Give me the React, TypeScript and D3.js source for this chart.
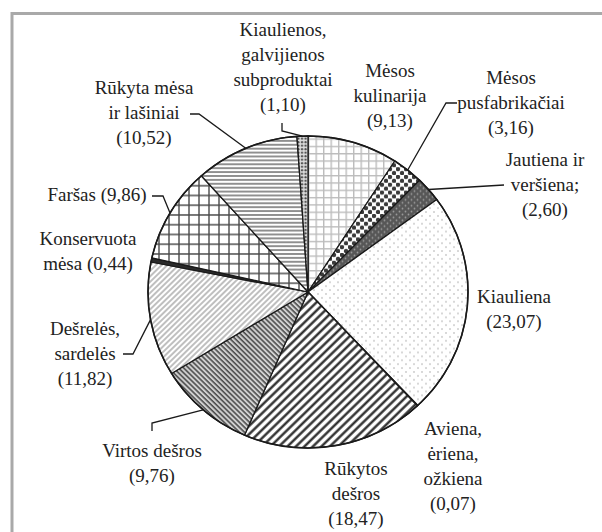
import React from 'react';
import * as d3 from 'd3';

// shares of meat product groups, clockwise from 12 o'clock
const categories = [
  'Mėsos kulinarija', 'Mėsos pusfabrikačiai', 'Jautiena ir veršiena', 'Kiauliena',
  'Aviena, ėriena, ožkiena', 'Rūkytos dešros', 'Virtos dešros', 'Dešrelės, sardelės',
  'Konservuota mėsa', 'Faršas', 'Rūkyta mėsa ir lašiniai', 'Kiaulienos, galvijienos subproduktai',
];
const values = [9.13, 3.16, 2.60, 23.07, 0.07, 18.47, 9.76, 11.82, 0.44, 9.86, 10.52, 1.10];
// how each label is broken into lines; {v} is the value
const labelLines = [
  ['Mėsos', 'kulinarija', '{v}'],
  ['Mėsos', 'pusfabrikačiai', '{v}'],
  ['Jautiena ir', 'veršiena;', '{v}'],
  ['Kiauliena', '{v}'],
  ['Aviena,', 'ėriena,', 'ožkiena', '{v}'],
  ['Rūkytos', 'dešros', '{v}'],
  ['Virtos dešros', '{v}'],
  ['Dešrelės,', 'sardelės', '{v}'],
  ['Konservuota', 'mėsa {v}'],
  ['Faršas {v}'],
  ['Rūkyta mėsa', 'ir lašiniai', '{v}'],
  ['Kiaulienos,', 'galvijienos', 'subproduktai', '{v}'],
];
const patternIds = [
  'p-kul', 'p-pus', 'p-jau', 'p-kia', 'p-avi', 'p-ruk', 'p-vir', 'p-des', 'p-kon', 'p-far', 'p-rme', 'p-sub',
];

// label placement (layout only)
const labelPos: { x: number; y: number; leader?: number[][] }[] = [
  { x: 390, y: 77 },
  { x: 511, y: 84, leader: [[457, 103], [446, 103]] },
  { x: 545, y: 166, leader: [[504, 185]] },
  { x: 514, y: 303 },
  { x: 453, y: 435 },
  { x: 356, y: 475 },
  { x: 152, y: 457, leader: [[152, 431], [152, 423]] },
  { x: 85, y: 335, leader: [[123, 354], [133, 354]] },
  { x: 88, y: 245 },
  { x: 97, y: 201, leader: [[152, 196], [163, 196]] },
  { x: 144, y: 94, leader: [[190, 114], [199, 114]] },
  { x: 283, y: 36, leader: [[282, 123], [282, 131]] },
];

const W = 602, H = 532;
const cx = 308, cy = 292, R = 160, ky = 0.975;
const lineH = 25;
const serif = "'Liberation Serif', Tinos, 'Noto Serif', 'DejaVu Serif', 'Times New Roman', Times, serif";

const fmt = (v: number) => '(' + d3.format('.2f')(v).replace('.', ',') + ')';

export default function App() {
  const pie = d3.pie<number>().sort(null).value(d => d);
  const arcs = pie(values);
  const arc = d3.arc<d3.PieArcDatum<number>>().innerRadius(0).outerRadius(R);
  const edge = d3.arc<d3.PieArcDatum<number>>().innerRadius(R).outerRadius(R);

  return (
    <svg width={W} height={H} style={{ position: 'absolute', left: 0, top: 0, background: '#fff' }}>
      <defs>
        <pattern id="p-kul" width="7.5" height="7.5" patternUnits="userSpaceOnUse">
          <rect width="7.5" height="7.5" fill="#fff" />
          <path d="M0 0.7H7.5M0.7 0V7.5" stroke="#bcbcbc" strokeWidth="1.4" />
        </pattern>
        <pattern id="p-pus" width="8" height="8" patternUnits="userSpaceOnUse">
          <rect width="8" height="8" fill="#fff" />
          <circle cx="2" cy="2" r="2.2" fill="#3a3a3a" />
          <circle cx="6" cy="6" r="2.2" fill="#3a3a3a" />
        </pattern>
        <pattern id="p-jau" width="6" height="6" patternUnits="userSpaceOnUse">
          <rect width="6" height="6" fill="#575757" />
          <circle cx="1.5" cy="1.5" r="0.9" fill="#9a9a9a" />
          <circle cx="4.5" cy="4.5" r="0.9" fill="#9a9a9a" />
        </pattern>
        <pattern id="p-kia" width="8" height="8" patternUnits="userSpaceOnUse">
          <rect width="8" height="8" fill="#fff" />
          <circle cx="2" cy="2" r="0.8" fill="#a8a8a8" />
          <circle cx="6" cy="6" r="0.8" fill="#a8a8a8" />
        </pattern>
        <pattern id="p-avi" width="4" height="4" patternUnits="userSpaceOnUse">
          <rect width="4" height="4" fill="#fff" />
        </pattern>
        <pattern id="p-ruk" width="6" height="6" patternUnits="userSpaceOnUse" patternTransform="rotate(45)">
          <rect width="6" height="6" fill="#fff" />
          <line x1="1.5" y1="0" x2="1.5" y2="6" stroke="#222" strokeWidth="2.3" />
        </pattern>
        <pattern id="p-vir" width="3.6" height="3.6" patternUnits="userSpaceOnUse" patternTransform="rotate(-45)">
          <rect width="3.6" height="3.6" fill="#d0d0d0" />
          <line x1="1" y1="0" x2="1" y2="3.6" stroke="#444" strokeWidth="1.5" />
        </pattern>
        <pattern id="p-des" width="4" height="4" patternUnits="userSpaceOnUse" patternTransform="rotate(45)">
          <rect width="4" height="4" fill="#fff" />
          <line x1="1" y1="0" x2="1" y2="4" stroke="#8a8a8a" strokeWidth="1.1" />
        </pattern>
        <pattern id="p-kon" width="4" height="4" patternUnits="userSpaceOnUse">
          <rect width="4" height="4" fill="#2a2a2a" />
        </pattern>
        <pattern id="p-far" width="10" height="10" patternUnits="userSpaceOnUse">
          <rect width="10" height="10" fill="#fff" />
          <path d="M0 1H10M1 0V10" stroke="#4a4a4a" strokeWidth="1.4" />
        </pattern>
        <pattern id="p-rme" width="4" height="4" patternUnits="userSpaceOnUse">
          <rect width="4" height="4" fill="#fff" />
          <line x1="0" y1="1" x2="4" y2="1" stroke="#333" strokeWidth="1.1" />
        </pattern>
        <pattern id="p-sub" width="3.6" height="3.6" patternUnits="userSpaceOnUse">
          <rect width="3.6" height="3.6" fill="#ddd" />
          <circle cx="1.2" cy="1.2" r="1.1" fill="#444" />
        </pattern>
      </defs>

      {/* frame */}
      <path d={`M12 ${H + 5}V13.5H${W + 5}`} fill="none" stroke="#a9a9a9" strokeWidth="3" />

      <g transform={`translate(${cx},${cy}) scale(1,${ky})`}>
        {arcs.map((a, i) => (
          <path key={categories[i]} d={arc(a) || ''} fill={`url(#${patternIds[i]})`}
            stroke="#1a1a1a" strokeWidth={1.3} strokeLinejoin="round" />
        ))}
        <circle r={R} fill="none" stroke="#1a1a1a" strokeWidth={1.6} />
      </g>

      {/* leader lines */}
      {arcs.map((a, i) => {
        const lp = labelPos[i];
        if (!lp.leader) return null;
        const [ex, ey] = edge.centroid(a);
        const pts = [...lp.leader, [cx + ex, cy + ey * ky]];
        return (
          <polyline key={'l' + i} points={pts.map(p => p.join(',')).join(' ')}
            fill="none" stroke="#1a1a1a" strokeWidth={1.3} />
        );
      })}

      {/* labels */}
      {labelLines.map((lines, i) => (
        <text key={'t' + i} x={labelPos[i].x} y={labelPos[i].y} textAnchor="middle"
          fontFamily={serif} fontSize={19} fill="#222">
          {lines.map((ln, j) => (
            <tspan key={j} x={labelPos[i].x} y={labelPos[i].y + j * lineH}>
              {ln.replace('{v}', fmt(values[i]))}
            </tspan>
          ))}
        </text>
      ))}
    </svg>
  );
}
